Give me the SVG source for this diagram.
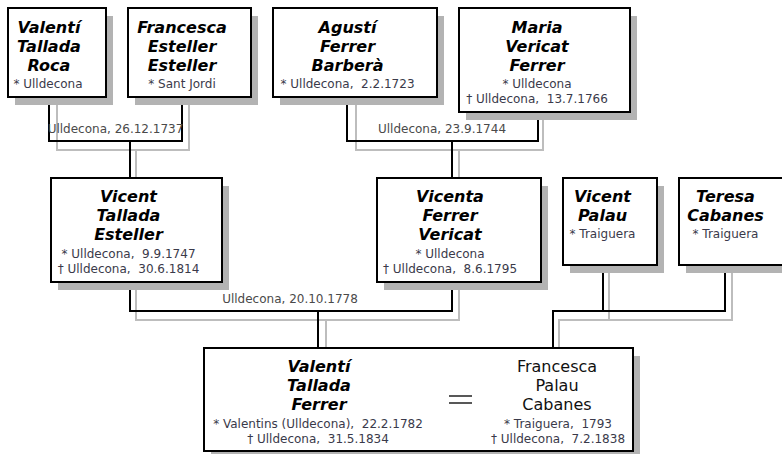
<svg xmlns="http://www.w3.org/2000/svg" width="782" height="454" viewBox="0 0 782 454">
<style>
.box{fill:#fff;stroke:#000;stroke-width:2}
.sh{fill:#b3b3b3}
.nm{font-family:"DejaVu Sans",Verdana,sans-serif;font-weight:bold;font-style:italic;font-size:16px;fill:#000;text-anchor:middle}
.nr{font-family:"DejaVu Sans",Verdana,sans-serif;font-size:16px;fill:#111;text-anchor:middle}
.sm{font-family:"DejaVu Sans",Verdana,sans-serif;font-size:12px;fill:#3a3a4a;text-anchor:middle;white-space:pre}
.lb{font-family:"DejaVu Sans",Verdana,sans-serif;font-size:12px;fill:#4a4a4a;text-anchor:middle;white-space:pre}
.bl{fill:none;stroke:#000;stroke-width:2}
.gl{fill:none;stroke:#bdbdbd;stroke-width:2}
</style>
<rect width="782" height="454" fill="#fff"/>
<g id="connectors">
<path class="gl" d="M57,97 V150 H189 V97 M136,150 V178"/>
<path class="bl" d="M49,97 V141 H182 V97 M130,141 V178"/>
<path class="gl" d="M356,97 V150 H543 V112 M459,150 V178"/>
<path class="bl" d="M347,97 V141 H538 V112 M452,141 V178"/>
<path class="gl" d="M136,282 V320 H459 V282 M326,320 V348"/>
<path class="bl" d="M130,282 V311 H452 V282 M318,311 V348"/>
<path class="gl" d="M609,265 V320 H732 V265 M559,348 V320 H609"/>
<path class="bl" d="M603,265 V311 H725 V265 M553,348 V311 H603"/>
<text class="lb" x="115.5" y="133">Ulldecona, 26.12.1737</text>
<text class="lb" x="442" y="133">Ulldecona, 23.9.1744</text>
<text class="lb" x="290" y="303">Ulldecona, 20.10.1778</text>
</g>
<g id="valenti-tallada-roca">
<rect class="sh" x="15" y="16" width="98" height="89"/>
<rect class="box" x="8" y="8" width="98" height="89"/>
<text class="nm" x="49" y="33">Valentí</text>
<text class="nm" x="49" y="52">Tallada</text>
<text class="nm" x="49" y="71">Roca</text>
<text class="sm" x="48" y="88">* Ulldecona</text>
</g>
<g id="francesca-esteller">
<rect class="sh" x="135" y="16" width="123" height="89"/>
<rect class="box" x="128" y="8" width="123" height="89"/>
<text class="nm" x="182" y="33">Francesca</text>
<text class="nm" x="182" y="52">Esteller</text>
<text class="nm" x="182" y="71">Esteller</text>
<text class="sm" x="182" y="88">* Sant Jordi</text>
</g>
<g id="agusti-ferrer">
<rect class="sh" x="280" y="16" width="164" height="89"/>
<rect class="box" x="273" y="8" width="164" height="89"/>
<text class="nm" x="347.5" y="33">Agustí</text>
<text class="nm" x="347.5" y="52">Ferrer</text>
<text class="nm" x="347.5" y="71">Barberà</text>
<text class="sm" x="347.5" y="88">* Ulldecona,  2.2.1723</text>
</g>
<g id="maria-vericat">
<rect class="sh" x="466" y="16" width="171" height="104"/>
<rect class="box" x="459" y="8" width="171" height="104"/>
<text class="nm" x="537" y="33">Maria</text>
<text class="nm" x="537" y="52">Vericat</text>
<text class="nm" x="537" y="71">Ferrer</text>
<text class="sm" x="537" y="88">* Ulldecona</text>
<text class="sm" x="537" y="103">† Ulldecona,  13.7.1766</text>
</g>
<g id="vicent-tallada">
<rect class="sh" x="58" y="186" width="171" height="104"/>
<rect class="box" x="51" y="178" width="171" height="104"/>
<text class="nm" x="128.5" y="202">Vicent</text>
<text class="nm" x="128.5" y="221">Tallada</text>
<text class="nm" x="128.5" y="240">Esteller</text>
<text class="sm" x="128.5" y="258">* Ulldecona,  9.9.1747</text>
<text class="sm" x="128.5" y="273">† Ulldecona,  30.6.1814</text>
</g>
<g id="vicenta-ferrer">
<rect class="sh" x="384" y="186" width="164" height="104"/>
<rect class="box" x="377" y="178" width="164" height="104"/>
<text class="nm" x="450" y="202">Vicenta</text>
<text class="nm" x="450" y="221">Ferrer</text>
<text class="nm" x="450" y="240">Vericat</text>
<text class="sm" x="450" y="258">* Ulldecona</text>
<text class="sm" x="450" y="273">† Ulldecona,  8.6.1795</text>
</g>
<g id="vicent-palau">
<rect class="sh" x="570" y="186" width="94" height="87"/>
<rect class="box" x="563" y="178" width="94" height="87"/>
<text class="nm" x="602.5" y="202">Vicent</text>
<text class="nm" x="602.5" y="221">Palau</text>
<text class="sm" x="602.5" y="238">* Traiguera</text>
</g>
<g id="teresa-cabanes">
<rect class="sh" x="686" y="186" width="108" height="87"/>
<rect class="box" x="679" y="178" width="108" height="87"/>
<text class="nm" x="725.5" y="202">Teresa</text>
<text class="nm" x="725.5" y="221">Cabanes</text>
<text class="sm" x="725.5" y="238">* Traiguera</text>
</g>
<g id="valenti-tallada-ferrer">
<rect class="sh" x="211" y="356" width="429" height="103"/>
<rect class="box" x="204" y="348" width="429" height="103"/>
<text class="nm" x="319" y="372">Valentí</text>
<text class="nm" x="319" y="391">Tallada</text>
<text class="nm" x="319" y="410">Ferrer</text>
<text class="sm" x="318" y="428">* Valentins (Ulldecona),  22.2.1782</text>
<text class="sm" x="318" y="443">† Ulldecona,  31.5.1834</text>
<path d="M449,396 H472 M449,403 H472" stroke="#222" stroke-width="1.6" fill="none"/>
<text class="nr" x="557" y="372">Francesca</text>
<text class="nr" x="557" y="391">Palau</text>
<text class="nr" x="557" y="410">Cabanes</text>
<text class="sm" x="558" y="428">* Traiguera,  1793</text>
<text class="sm" x="558" y="443">† Ulldecona,  7.2.1838</text>
</g>
</svg>
